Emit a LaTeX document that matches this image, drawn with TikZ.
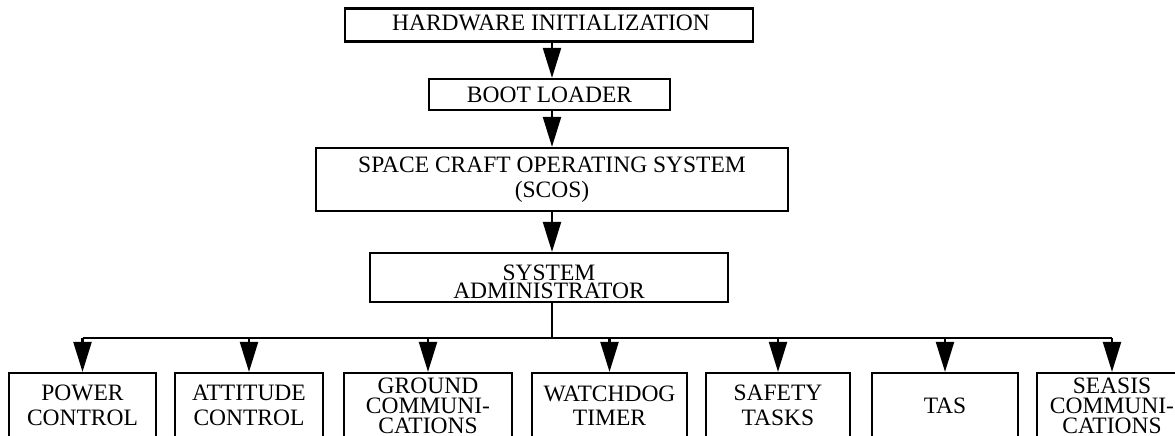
\documentclass[tikz,border=0pt]{standalone}
\usepackage{fontspec}
\setmainfont{Liberation Serif}
\usetikzlibrary{arrows.meta}

\tikzset{
  box/.style={draw, line width=2.2pt, rectangle, inner sep=0pt},
  lbl/.style={align=center, inner sep=0pt, font={\fontsize{23.5}{24.5}\selectfont}},
  tight/.style={font={\fontsize{23.5}{20}\selectfont}},
  arr/.style={line width=2.2pt, -{Triangle[length=30pt,width=18pt]}},
  wire/.style={line width=2.2pt},
  leaf/.style={box, lbl, minimum height=65pt}
}

\begin{document}
\begin{tikzpicture}[x=1pt,y=-1pt]
\useasboundingbox (0,0) rectangle (1175,436);
\clip (0,0) rectangle (1175,436);

% main chain
\node[box, minimum width=408pt, minimum height=33pt] (hw) at (549,25) {};
\node[lbl] (hwtxt) at (551,22.5) {HARDWARE INITIALIZATION};

\node[box, lbl, minimum width=241pt, minimum height=31pt] (boot) at (549.5,94.5) {BOOT LOADER};

\node[box, lbl, minimum width=472pt, minimum height=63pt] (scos) at (552,179.5)
  {SPACE CRAFT OPERATING SYSTEM\\(SCOS)};

\node[box, minimum width=358pt, minimum height=49pt] (admin) at (549,277.5) {};
\node[lbl, font={\fontsize{23.5}{18}\selectfont}] (admintxt) at (549,282) {SYSTEM\\ADMINISTRATOR};

% spine and bus
\coordinate (spine) at (552,0);
\coordinate (bus) at (552,338);

\draw[arr] (hw.south -| spine) -- (boot.north -| spine);
\draw[arr] (boot.south -| spine) -- (scos.north -| spine);
\draw[arr] (scos.south -| spine) -- (admin.north -| spine);

% task boxes
\node[leaf, minimum width=147pt] (pwr) at (82.5,405.5) {POWER\\CONTROL};
\node[leaf, minimum width=148pt] (att) at (249,405.5) {ATTITUDE\\CONTROL};
\node[leaf, tight, minimum width=168pt] (gnd) at (428,405.5) {GROUND\\COMMUNI-\\CATIONS};
\node[leaf, minimum width=155pt] (wdg) at (609.5,405.5) {WATCHDOG\\TIMER};
\node[leaf, minimum width=144pt] (saf) at (778,405.5) {SAFETY\\TASKS};
\node[leaf, minimum width=146pt] (tas) at (945,405.5) {TAS};
\node[leaf, tight, minimum width=150pt] (sea) at (1112,405.5) {SEASIS\\COMMUNI-\\CATIONS};

\draw[wire] (admin.south -| spine) -- (bus);
\draw[wire] (bus -| pwr.north) -- (bus -| sea.north);

\foreach \t in {pwr,att,gnd,wdg,saf,tas,sea}
  \draw[arr] (bus -| \t.north) -- (\t.north);
\end{tikzpicture}
\end{document}
